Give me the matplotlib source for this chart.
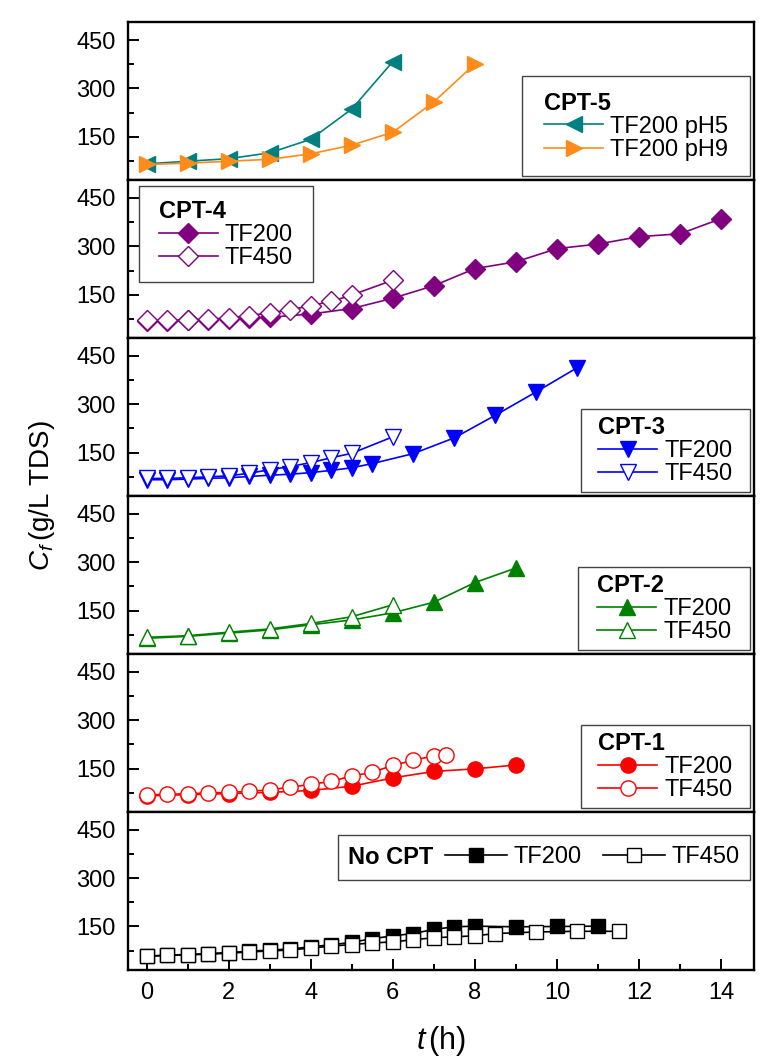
import matplotlib
matplotlib.use('Agg')
import matplotlib.pyplot as plt
from matplotlib.offsetbox import HPacker, DrawingArea
from matplotlib.ticker import MultipleLocator

plt.rcParams['font.family'] = ['Liberation Sans', 'DejaVu Sans']
plt.rcParams['mathtext.fontset'] = 'custom'
plt.rcParams['mathtext.it'] = 'Liberation Sans:italic'
plt.rcParams['mathtext.rm'] = 'Liberation Sans'

# CPT-5
t5_ph5 = [0, 1, 2, 3, 4, 5, 6]
c5_ph5 = [66, 74, 82, 100, 142, 236, 383]
t5_ph9 = [0, 1, 2, 3, 4, 5, 6, 7, 8]
c5_ph9 = [64, 68, 74, 80, 97, 124, 164, 258, 376]

# CPT-4
t4_200 = [0, 0.5, 1, 1.5, 2, 2.5, 3, 4, 5, 6, 7, 8, 9, 10, 11, 12, 13, 14]
c4_200 = [68, 68, 70, 72, 75, 77, 80, 90, 107, 139, 178, 231, 252, 293, 307, 330, 339, 386]
t4_450 = [0, 0.5, 1, 1.5, 2, 2.5, 3, 3.5, 4, 4.5, 5, 6]
c4_450 = [70, 70, 72, 74, 78, 85, 94, 103, 116, 129, 149, 195]

# CPT-3
t3_200 = [0, 0.5, 1, 1.5, 2, 2.5, 3, 3.5, 4, 4.5, 5, 5.5, 6.5, 7.5, 8.5, 9.5, 10.5]
c3_200 = [66, 66, 68, 70, 72, 76, 80, 83, 88, 95, 103, 116, 147, 196, 266, 339, 414]
t3_450 = [0, 0.5, 1, 1.5, 2, 2.5, 3, 3.5, 4, 4.5, 5, 6]
c3_450 = [70, 70, 72, 75, 78, 86, 97, 107, 119, 134, 148, 199]

# CPT-2
t2_200 = [0, 1, 2, 3, 4, 5, 6, 7, 8, 9]
c2_200 = [64, 70, 80, 90, 106, 121, 143, 176, 237, 282]
t2_450 = [0, 1, 2, 3, 4, 5, 6]
c2_450 = [67, 72, 83, 93, 110, 131, 168]

# CPT-1
t1_200 = [0, 1, 2, 3, 4, 5, 6, 7, 8, 9]
c1_200 = [65, 69, 72, 76, 82, 95, 121, 141, 149, 161]
t1_450 = [0, 0.5, 1, 1.5, 2, 2.5, 3, 3.5, 4, 4.5, 5, 5.5, 6, 6.5, 7, 7.3]
c1_450 = [68, 70, 72, 74, 76, 79, 84, 92, 101, 110, 127, 138, 160, 175, 190, 192]

# No CPT
t0_200 = [0, 0.5, 1, 1.5, 2, 2.5, 3, 3.5, 4, 4.5, 5, 5.5, 6, 6.5, 7, 7.5, 8, 9, 10, 11]
c0_200 = [58, 61, 63, 66, 69, 73, 77, 80, 87, 93, 101, 112, 121, 128, 141, 149, 151, 149, 150, 151]
t0_450 = [0, 0.5, 1, 1.5, 2, 2.5, 3, 3.5, 4, 4.5, 5, 5.5, 6, 6.5, 7, 7.5, 8, 8.5, 9.5, 10.5, 11.5]
c0_450 = [58, 60, 62, 64, 67, 71, 74, 77, 83, 89, 94, 99, 102, 109, 115, 118, 121, 128, 133, 135, 135]

FS = 17


def swap_box(leg, ax, box):
    box.set_figure(fig)
    box.axes = ax
    box.set_offset(leg._findoffset)
    leg._legend_box = box


def legend_box(ax, title, side=0, **kw):
    opts = dict(alignment='left', fancybox=False, framealpha=1, edgecolor='#444444',
                handlelength=2.5, handletextpad=0.3, labelspacing=0.05,
                borderpad=0.28, borderaxespad=0.15, fontsize=FS)
    opts.update(kw)
    leg = ax.legend(title=title, title_fontproperties={'weight': 'bold', 'size': FS}, **opts)
    leg.get_frame().set_linewidth(1.0)
    if side:
        # extra room left and right of the entries
        swap_box(leg, ax, HPacker(pad=0, sep=0, align='center',
                                  children=[DrawingArea(side, 1), leg._legend_box,
                                            DrawingArea(side, 1)]))
    return leg


fig, axes = plt.subplots(6, 1, figsize=(7.67, 10.63), sharex=True)
fig.subplots_adjust(left=0.167, right=0.983, top=0.979, bottom=0.0875, hspace=0)

lw = 1.2
ax = axes[0]
ax.plot(t5_ph5, c5_ph5, color='#008080', marker='<', ms=12, lw=lw, label='TF200 pH5')
ax.plot(t5_ph9, c5_ph9, color='#FF8C1A', marker='>', ms=12, lw=lw, label='TF200 pH9')
legend_box(ax, 'CPT-5', side=5, loc='lower right', bbox_to_anchor=(1.0, 0.003),
           borderpad=0.65)

ax = axes[1]
ax.plot(t4_200, c4_200, color='#800080', marker='D', ms=10, lw=lw, label='TF200')
ax.plot(t4_450, c4_450, color='#800080', marker='D', ms=10, lw=lw, mfc='white', label='TF450')
legend_box(ax, 'CPT-4', side=4.5, loc='upper left', bbox_to_anchor=(0.012, 0.985),
           borderpad=0.57)

ax = axes[2]
ax.plot(t3_200, c3_200, color='#0000FF', marker='v', ms=12, lw=lw, label='TF200')
ax.plot(t3_450, c3_450, color='#0000FF', marker='v', ms=12, lw=lw, mfc='white', label='TF450')
legend_box(ax, 'CPT-3', side=8, loc='lower right', bbox_to_anchor=(1.0, 0.005))

ax = axes[3]
ax.plot(t2_200, c2_200, color='#008000', marker='^', ms=12, lw=lw, label='TF200')
ax.plot(t2_450, c2_450, color='#008000', marker='^', ms=12, lw=lw, mfc='white', label='TF450')
legend_box(ax, 'CPT-2', side=9, loc='lower right', bbox_to_anchor=(1.0, 0.005))

ax = axes[4]
ax.plot(t1_200, c1_200, color='#FF0000', marker='o', ms=11, lw=lw, label='TF200')
ax.plot(t1_450, c1_450, color='#FF0000', marker='o', ms=11, lw=lw, mfc='white', label='TF450')
legend_box(ax, 'CPT-1', side=8, loc='lower right', bbox_to_anchor=(1.0, 0.005))

ax = axes[5]
ax.plot(t0_200, c0_200, color='black', marker='s', ms=10, lw=lw, label='TF200')
ax.plot(t0_450, c0_450, color='black', marker='s', ms=10, lw=lw, mfc='white', label='TF450')
leg = legend_box(ax, 'No CPT', loc='upper right', bbox_to_anchor=(1.0, 0.875), ncol=2,
                 columnspacing=0.9, handlelength=2.6)
# bold title on the same row as the entries
swap_box(leg, ax, HPacker(pad=0.45 * FS, sep=0.5 * FS, align='center',
                          children=[leg._legend_title_box, leg._legend_handle_box]))

for i, ax in enumerate(axes):
    ax.set_ylim(15, 505)
    ax.set_yticks([150, 300, 450])
    ax.yaxis.set_minor_locator(MultipleLocator(75))
    ax.set_xlim(-0.45, 14.8)
    ax.tick_params(axis='y', which='both', direction='in', right=False, labelsize=FS, pad=9)
    ax.tick_params(axis='y', which='major', length=8, width=1.4)
    ax.tick_params(axis='y', which='minor', length=4, width=1.4)
    for s in ax.spines.values():
        s.set_linewidth(1.7)
    if i < 5:
        ax.tick_params(axis='x', which='both', bottom=False, top=False, labelbottom=False)

ax = axes[5]
ax.set_xticks(range(0, 15, 2))
ax.xaxis.set_minor_locator(MultipleLocator(1))
ax.tick_params(axis='x', which='both', direction='in', top=False, labelsize=FS, pad=9)
ax.tick_params(axis='x', which='major', length=8, width=1.4)
ax.tick_params(axis='x', which='minor', length=4, width=1.4)
ax.set_xlabel(r'$t\,$(h)', fontsize=22, labelpad=14)

fig.text(0.055, 1 - 496 / 1063, r'$C_f\,$(g/L TDS)', rotation=90, fontsize=20,
         ha='center', va='center')

fig.savefig('out.png', dpi=100, facecolor='white')
